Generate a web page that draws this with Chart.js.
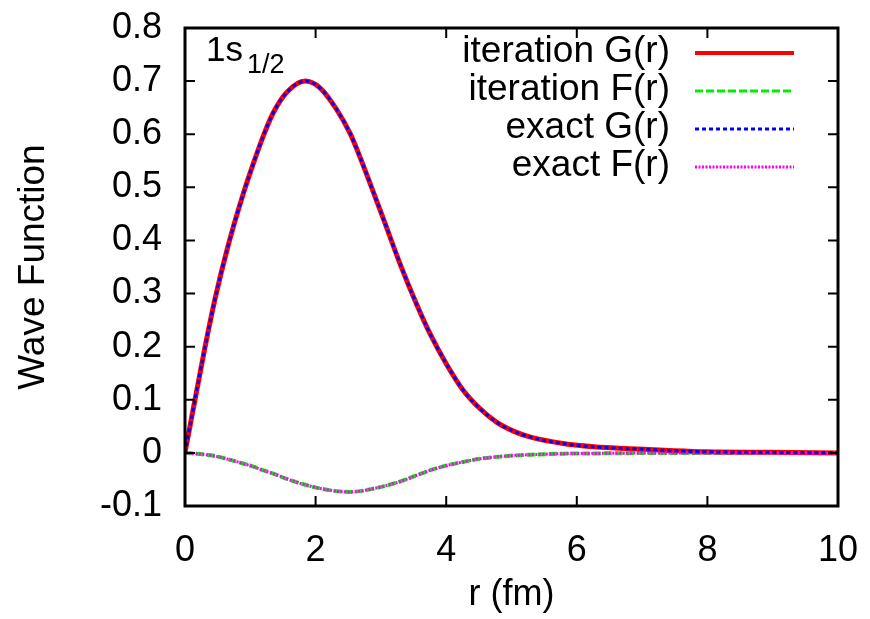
<!DOCTYPE html>
<html>
<head>
<meta charset="utf-8">
<script src="https://cdn.jsdelivr.net/npm/chart.js@4/dist/chart.umd.min.js"></script>
<style>
  html, body { margin: 0; padding: 0; background: #fff; }
  #wrap { width: 870px; height: 619px; }
</style>
</head>
<body>
<div id="wrap"><canvas id="waveChart" width="870" height="619"></canvas></div>
<script>
// values
const rValues = [0, 0.3, 0.46, 0.66, 0.89, 1.05, 1.2, 1.35, 1.56, 1.84, 2.07, 2.32, 2.53, 2.68, 2.86, 3.04, 3.29, 3.55, 3.75, 4.0, 4.26, 4.52, 4.77, 5.03, 5.28, 5.79, 6.3, 6.81, 7.5, 8, 9, 10];
const gValues = [0, 0.195, 0.29, 0.39, 0.487, 0.546, 0.597, 0.64, 0.679, 0.7, 0.687, 0.647, 0.601, 0.557, 0.499, 0.44, 0.357, 0.279, 0.225, 0.168, 0.118, 0.083, 0.058, 0.041, 0.03, 0.0175, 0.011, 0.008, 0.004, 0.002, 0.001, 0];
const fValues = [0, -0.003, -0.006, -0.012, -0.02, -0.026, -0.033, -0.039, -0.049, -0.06, -0.067, -0.072, -0.0735, -0.072, -0.068, -0.063, -0.054, -0.042, -0.033, -0.024, -0.017, -0.011, -0.0075, -0.005, -0.0035, -0.0015, -0.001, -0.0005, 0, 0, 0, 0];
const seriesLabels = ["iteration G(r)", "iteration F(r)", "exact G(r)", "exact F(r)"];
const xTicks = [0, 2, 4, 6, 8, 10];
const yTicks = [-0.1, 0, 0.1, 0.2, 0.3, 0.4, 0.5, 0.6, 0.7, 0.8];

const FONT = "'Liberation Sans', Arial, sans-serif";

function pts(vals) {
  return rValues.map((r, i) => ({ x: r, y: vals[i] }));
}

// frame with inward ticks on all four sides, gnuplot style
const framePlugin = {
  id: "frame",
  afterDraw(chart) {
    const { ctx, chartArea: a, scales } = chart;
    const tick = 10;
    ctx.save();
    ctx.strokeStyle = "#000";
    ctx.lineWidth = 2;
    xTicks.forEach((v) => {
      const px = scales.x.getPixelForValue(v);
      ctx.beginPath();
      ctx.moveTo(px, a.bottom); ctx.lineTo(px, a.bottom - tick);
      ctx.moveTo(px, a.top); ctx.lineTo(px, a.top + tick);
      ctx.stroke();
    });
    yTicks.forEach((v) => {
      const py = scales.y.getPixelForValue(v);
      ctx.beginPath();
      ctx.moveTo(a.left, py); ctx.lineTo(a.left + tick, py);
      ctx.moveTo(a.right, py); ctx.lineTo(a.right - tick, py);
      ctx.stroke();
    });
    ctx.lineWidth = 3;
    ctx.strokeRect(a.left, a.top, a.right - a.left, a.bottom - a.top);

    // key, text on the left of the line sample
    ctx.font = "37px " + FONT;
    ctx.fillStyle = "#000";
    ctx.textAlign = "right";
    ctx.textBaseline = "middle";
    const rows = [52, 90, 128, 166];
    chart.data.datasets.forEach((ds, i) => {
      const y = rows[i];
      ctx.fillText(ds.label, 670, y);
      ctx.save();
      ctx.strokeStyle = ds.borderColor;
      ctx.lineWidth = ds.keyWidth;
      ctx.setLineDash(ds.borderDash || []);
      ctx.beginPath();
      ctx.moveTo(695, y + 1); ctx.lineTo(794, y + 1);
      ctx.stroke();
      ctx.restore();
    });

    // state label
    ctx.textAlign = "left";
    ctx.textBaseline = "alphabetic";
    ctx.font = "35px " + FONT;
    ctx.fillText("1s", 206, 61);
    ctx.font = "27px " + FONT;
    ctx.fillText("1/2", 247, 73);
    ctx.restore();
  },
};

const canvas = document.getElementById("waveChart");

new Chart(canvas, {
  type: "line",
  data: {
    datasets: [
      {
        label: seriesLabels[0],
        data: pts(gValues),
        borderColor: "#ff0000",
        borderWidth: 5,
        keyWidth: 4,
        order: 2,
      },
      {
        label: seriesLabels[1],
        data: pts(fValues),
        borderColor: "#00ee00",
        borderWidth: 4,
        keyWidth: 3,
        borderDash: [8, 3],
        order: 3,
      },
      {
        label: seriesLabels[2],
        data: pts(gValues),
        borderColor: "#0000ff",
        borderWidth: 3,
        keyWidth: 3,
        borderDash: [4, 3],
        order: 0,
      },
      {
        label: seriesLabels[3],
        data: pts(fValues),
        borderColor: "#ff00ff",
        borderWidth: 3,
        keyWidth: 3,
        borderDash: [2, 1.5],
        order: 1,
      },
    ],
  },
  options: {
    responsive: false,
    animation: false,
    cubicInterpolationMode: "monotone",
    elements: { point: { radius: 0 } },
    layout: { padding: { left: 0, right: 32, top: 28, bottom: 0 } },
    scales: {
      x: {
        type: "linear",
        min: 0,
        max: 10,
        afterBuildTicks: (s) => { s.ticks = xTicks.map((v) => ({ value: v })); },
        afterFit: (s) => { s.height = 113; s.paddingLeft = 0; s.paddingRight = 0; },
        grid: { display: false },
        border: { display: false },
        ticks: { color: "#000", font: { family: FONT, size: 36 }, padding: 15, maxRotation: 0 },
        title: { display: true, text: "r (fm)", color: "#000", font: { family: FONT, size: 36 }, padding: { top: 0, bottom: 2 } },
      },
      y: {
        type: "linear",
        min: -0.1,
        max: 0.8,
        afterBuildTicks: (s) => { s.ticks = yTicks.map((v) => ({ value: v })); },
        afterFit: (s) => { s.width = 185; s.paddingTop = 0; s.paddingBottom = 0; },
        grid: { display: false },
        border: { display: false },
        ticks: {
          color: "#000",
          font: { family: FONT, size: 36 },
          padding: 15,
          callback: (v) => String(Math.round(v * 10) / 10),
        },
        title: { display: true, text: "Wave Function", color: "#000", font: { family: FONT, size: 37 }, padding: { top: 12, bottom: 0 } },
      },
    },
    plugins: {
      legend: { display: false },
      tooltip: { enabled: false },
    },
  },
  plugins: [framePlugin],
});
</script>
</body>
</html>
